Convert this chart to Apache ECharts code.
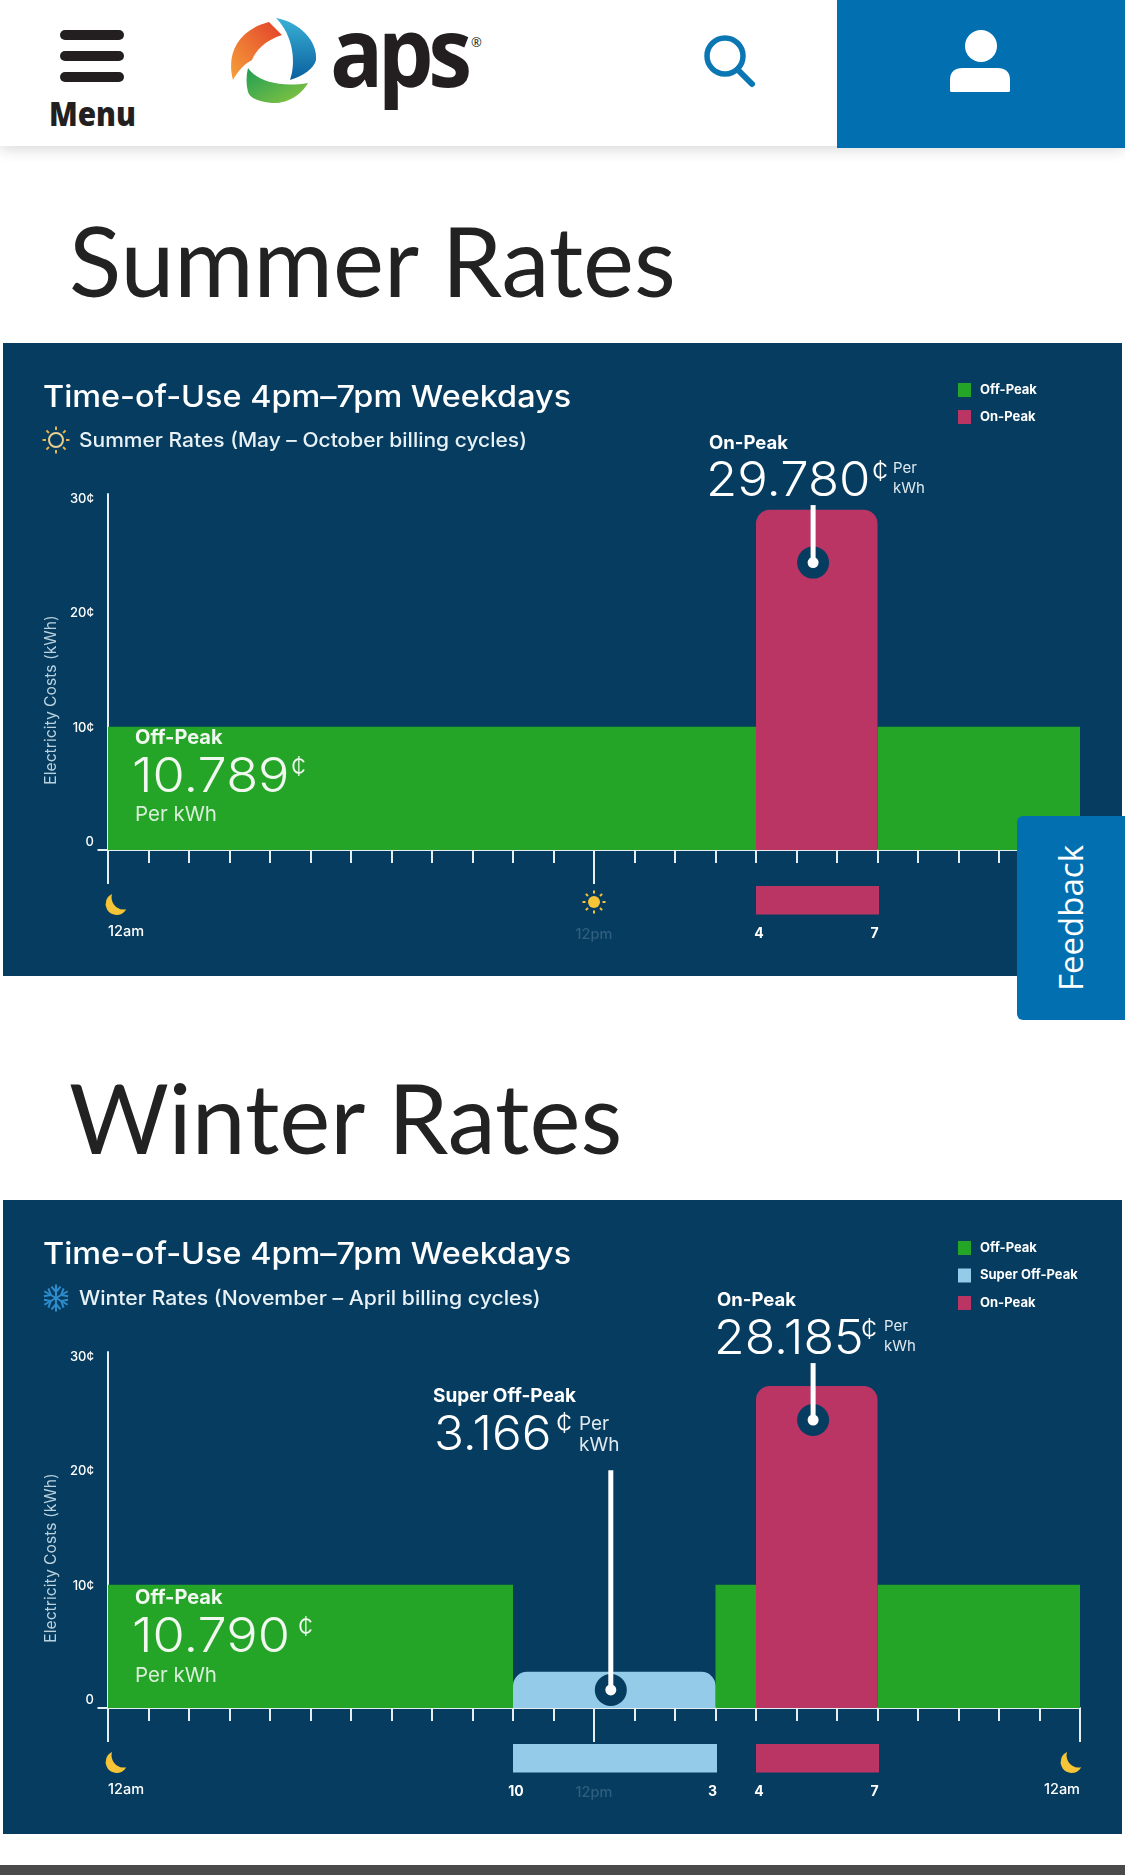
<!DOCTYPE html>
<html>
<head>
<meta charset="utf-8">
<title>APS Time-of-Use Rates</title>
<script src="https://cdn.jsdelivr.net/npm/echarts@6/dist/echarts.min.js"></script>
<style>
  html, body { margin: 0; padding: 0; background: #fff; }
  body { position: relative; width: 1125px; height: 1875px; overflow: hidden; }
  .abs { position: absolute; }
  .header { left: 0; top: 0; width: 1125px; height: 146px; background: #fff; box-shadow: 0 3px 14px rgba(0,0,0,.16); }
  .account { left: 837px; top: 0; width: 288px; height: 148px; background: #0270b0; }
  .bar { left: 60px; width: 64px; height: 10px; border-radius: 5px; background: #231f20; }
  .menu { left: 49px; top: 92px; font: 800 33px/44px "Open Sans", sans-serif; color: #231f20; transform: scaleX(.9); transform-origin: left; }
  .aps { left: 330px; top: -10px; font: 700 96px/120px "Open Sans", sans-serif; letter-spacing: -6px; color: #231f20; transform: scaleX(.92); transform-origin: left; }
  .reg { left: 471px; top: 35px; font: 400 13px/14px "Open Sans", sans-serif; color: #231f20; }
  h1 { position: absolute; margin: 0; left: 69px; font: 400 96.5px/110px Lato, sans-serif; color: #222; }
  .panel { left: 3px; width: 1119px; background: #063c5f; }
  .feedback { left: 1017px; top: 816px; width: 108px; height: 204px; background: #0270b0; border-radius: 6px 0 0 6px; z-index: 5; }
  .feedback span { position: absolute; left: 54px; top: 102px; transform: translate(-50%,-50%) rotate(-90deg); font: 400 33px/40px "Open Sans", sans-serif; color: #fff; white-space: nowrap; }
  .footer { left: 0; top: 1865px; width: 1125px; height: 10px; background: #4a4a4a; }
  #chart { position: absolute; left: 0; top: 0; width: 1125px; height: 1875px; }
</style>
</head>
<body>
<div class="abs panel" style="top:343px;height:633px"></div>
<div class="abs panel" style="top:1200px;height:634px"></div>
<div class="abs header"></div>
<div class="abs account"></div>
<div class="abs bar" style="top:30px"></div>
<div class="abs bar" style="top:51px"></div>
<div class="abs bar" style="top:72px"></div>
<div class="abs menu">Menu</div>
<svg class="abs" style="left:228px;top:14px" width="92" height="92" viewBox="0 0 92 92">
  <defs>
    <linearGradient id="petalA" x1="0" y1="1" x2="1" y2="0"><stop offset="0" stop-color="#f6a13a"/><stop offset="1" stop-color="#e2402b"/></linearGradient>
    <linearGradient id="petalB" x1="0" y1="0" x2="0" y2="1"><stop offset="0" stop-color="#39b1d6"/><stop offset="1" stop-color="#0a5f9e"/></linearGradient>
    <linearGradient id="petalC" x1="0" y1="0" x2="1" y2="1"><stop offset="0" stop-color="#1f9e55"/><stop offset="1" stop-color="#8cc63f"/></linearGradient>
  </defs>
  <path d="M5 66 C-2 40 10 16 41 8 L54 21 C38 26 28 36 24 46 C16 50 10 57 5 66Z" fill="url(#petalA)"/>
  <path d="M48 4 C72 8 90 28 88 46 C86 54 76 62 62 66 C68 50 66 22 48 4Z" fill="url(#petalB)"/>
  <path d="M20 54 C28 66 50 74 80 69 C74 80 60 90 44 89 C30 88 22 84 20 78 C18 70 18 62 20 54Z" fill="url(#petalC)"/>
</svg>
<div class="abs aps">aps</div>
<div class="abs reg">®</div>
<svg class="abs" style="left:700px;top:32px" width="60" height="58" viewBox="0 0 60 58">
  <ellipse cx="25" cy="24" rx="18" ry="18" fill="none" stroke="#0a76b3" stroke-width="5.5"/>
  <line x1="38" y1="38" x2="52" y2="52" stroke="#0a76b3" stroke-width="6" stroke-linecap="round"/>
</svg>
<svg class="abs" style="left:945px;top:28px" width="70" height="68" viewBox="0 0 70 68">
  <ellipse cx="36" cy="18" rx="16" ry="16" fill="#fff"/>
  <path d="M5 63 V52 Q5 40 18 40 H52 Q65 40 65 52 V63 Q65 64 63 64 H7 Q5 64 5 63Z" fill="#fff"/>
</svg>
<h1 style="top:205px">Summer Rates</h1>
<h1 style="top:1062px">Winter Rates</h1>
<div class="abs feedback"><span>Feedback</span></div>
<div class="abs footer"></div>
<div id="chart"></div>

<script>
// Rates in cents per kWh; spans are [startHour, endHour] on a 24-hour day.
const summerOffPeakRate = 10.789;
const summerOnPeakRate = 29.780;
const winterOffPeakRate = 10.790;
const winterSuperOffPeakRate = 3.166;
const winterOnPeakRate = 28.185;

const summerOffPeakSpans = [[0, 16], [19, 24]];
const summerOnPeakSpans = [[16, 19]];
const winterOffPeakSpans = [[0, 10], [15, 16], [19, 24]];
const winterSuperOffPeakSpans = [[10, 15]];
const winterOnPeakSpans = [[16, 19]];

const summerOnPeakHourLabels = ['4', '7'];
const winterSuperOffPeakHourLabels = ['10', '3'];
const winterOnPeakHourLabels = ['4', '7'];

// Callout pins: [hour, pin rate, stem top rate]
const summerOnPeakPin = [17.41, 25.15, 30.18];
const winterOnPeakPin = [17.41, 25.2, 30.18];
const winterSuperOffPeakPin = [12.415, 1.58, 20.8];

const rateTickStep = 10;
const rateAxisTop = 31.15;
const dayClockLabels = ['12am', '12pm', '12am'];
const legendSummer = ['Off-Peak', 'On-Peak'];
const legendWinter = ['Off-Peak', 'Super Off-Peak', 'On-Peak'];

const NAVY = '#063c5f', GREEN = '#25a527', BLUE = '#93cbe9', RED = '#bb3564', AMBER = '#f6c437', LINE = '#e4eef3';
const UI_FONT = 'Inter, sans-serif';

const chart = echarts.init(document.getElementById('chart'), null, { renderer: 'canvas' });

// One block per span, with an optional strip and hour labels under the axis.
function rateSeries(name, gridIndex, spans, rate, color, radius, hourLabels) {
  return {
    type: 'custom', name, xAxisIndex: gridIndex * 2, yAxisIndex: gridIndex,
    itemStyle: { color }, z: name === 'On-Peak' ? 4 : 3,
    encode: { x: [0, 1], y: 2 },
    data: spans.map(s => [s[0], s[1], rate]),
    renderItem(params, api) {
      const a = api.coord([api.value(0), api.value(2)]);
      const b = api.coord([api.value(1), 0]);
      const children = [{
        type: 'rect',
        shape: { x: a[0], y: a[1], width: b[0] - a[0], height: b[1] - a[1], r: [radius, radius, 0, 0] },
        style: { fill: color }
      }];
      if (hourLabels) {
        children.push({
          type: 'rect',
          shape: { x: a[0], y: b[1] + 36, width: b[0] - a[0] + 1.5, height: 28.5 },
          style: { fill: color }
        });
        hourLabels.forEach((text, i) => {
          children.push({
            type: 'text',
            style: {
              text, x: (i === 0 ? a[0] : b[0]) + (i === 0 ? 3 : -3), y: b[1] + 84,
              fill: '#fff', font: '700 14px ' + UI_FONT, align: 'center', verticalAlign: 'middle',
              textAlign: 'center', textVerticalAlign: 'middle'
            }
          });
        });
      }
      return { type: 'group', children };
    }
  };
}

// Stem running into a navy pin with a white centre.
function pinSeries(gridIndex, pins) {
  return {
    type: 'custom', name: 'pin', xAxisIndex: gridIndex * 2, yAxisIndex: gridIndex, z: 6,
    encode: { x: 0, y: [1, 2] },
    data: pins,
    renderItem(params, api) {
      const dot = api.coord([api.value(0), api.value(1)]);
      const top = api.coord([api.value(0), api.value(2)]);
      return {
        type: 'group',
        children: [
          { type: 'circle', shape: { cx: dot[0], cy: dot[1], r: 16 }, style: { fill: NAVY } },
          { type: 'line', shape: { x1: top[0], y1: top[1], x2: dot[0], y2: dot[1] }, style: { stroke: '#fff', lineWidth: 5 } },
          { type: 'circle', shape: { cx: dot[0], cy: dot[1], r: 5.5 }, style: { fill: '#fff' } }
        ]
      };
    }
  };
}

const MOON = 'M9 1 A11.5 11.5 0 1 0 24 17 A13 13 0 0 1 9 1 Z';

// Moon and sun icons that sit under the clock ticks.
function clockIconSeries(gridIndex, icons) {
  return {
    type: 'custom', name: 'clock', xAxisIndex: gridIndex * 2, yAxisIndex: gridIndex, z: 5,
    encode: { x: 0 },
    data: icons.map(i => [i[0], 0, i[1]]),
    renderItem(params, api) {
      const hour = api.value(0);
      const p = api.coord([hour, 0]);
      const kind = icons[params.dataIndex][1];
      if (kind === 'moon') {
        const cx = p[0] + (hour === 0 ? 8 : -9);
        return {
          type: 'path',
          shape: { pathData: MOON, x: cx - 10.5, y: p[1] + 44, width: 21, height: 21 },
          style: { fill: AMBER }
        };
      }
      const cx = p[0], cy = p[1] + 52;
      const children = [{ type: 'circle', shape: { cx, cy, r: 6 }, style: { fill: AMBER } }];
      for (let k = 0; k < 8; k++) {
        const t = k * Math.PI / 4;
        children.push({
          type: 'line',
          shape: { x1: cx + Math.cos(t) * 8.5, y1: cy + Math.sin(t) * 8.5, x2: cx + Math.cos(t) * 11.5, y2: cy + Math.sin(t) * 11.5 },
          style: { stroke: AMBER, lineWidth: 2 }
        });
      }
      return { type: 'group', children };
    }
  };
}

function axesFor(gridIndex) {
  const hourAxis = {
    type: 'value', gridIndex, min: 0, max: 24, interval: 1, position: 'bottom',
    splitLine: { show: false }, axisLabel: { show: false },
    axisLine: { show: true, onZero: false, lineStyle: { color: LINE, width: 2 } },
    axisTick: { show: true, length: 13, lineStyle: { color: LINE, width: 2 } }
  };
  const clockAxis = {
    type: 'value', gridIndex, min: 0, max: 24, interval: 12, position: 'bottom',
    splitLine: { show: false }, axisLine: { show: false },
    axisTick: { show: true, length: 34, lineStyle: { color: LINE, width: 2 } },
    axisLabel: {
      show: true, margin: 74, verticalAlign: 'top',
      alignMinLabel: 'left', alignMaxLabel: 'right', showMinLabel: true, showMaxLabel: true,
      rich: {
        day: { color: '#fff', fontSize: 14.5, fontWeight: 500, fontFamily: UI_FONT },
        noon: { color: '#2f5e7e', fontSize: 14.5, fontWeight: 500, fontFamily: UI_FONT, padding: [3, 0, 0, 0] }
      },
      formatter: v => (v === 12 ? '{noon|' : '{day|') + dayClockLabels[v / 12] + '}'
    }
  };
  return [hourAxis, clockAxis];
}

const yAxisFor = gridIndex => ({
  type: 'value', gridIndex, min: 0, max: rateAxisTop, interval: rateTickStep,
  name: 'Electricity Costs (kWh)', nameLocation: 'middle', nameGap: 49,
  nameTextStyle: { color: '#b9d2df', fontSize: 15.7, fontFamily: UI_FONT, padding: [0, 56, 0, 0] },
  splitLine: { show: false },
  axisLine: { show: true, lineStyle: { color: LINE, width: 2 } },
  axisTick: { show: true, customValues: [0], length: 10.5, lineStyle: { color: LINE, width: 2 } },
  axisLabel: {
    color: '#fff', fontSize: 13, fontWeight: 500, fontFamily: UI_FONT, margin: 14, showMaxLabel: false,
    verticalAlign: 'bottom', lineHeight: 16,
    formatter: v => (v === 0 ? '0' : v + '¢')
  }
});

// Plain text placed on the panels.
function label(text, x, y, size, weight, fill, sx) {
  return {
    type: 'text', z: 50, x, y, scaleX: sx || 1,
    style: {
      text, x: 0, y: 0, fill, font: weight + ' ' + size + 'px ' + UI_FONT,
      align: 'left', verticalAlign: 'middle', textAlign: 'left', textVerticalAlign: 'middle'
    }
  };
}

// Headline figure with its cent sign and stacked "Per kWh" note.
function callout(title, titleSize, rate, numSx, x, titleY, numX, numY, centX, centY, perX, perY, kwhY, perSize) {
  return [
    label(title, x, titleY, titleSize, 700, '#fff'),
    label(rate.toFixed(3), numX, numY, 48, 300, '#fff', numSx),
    label('¢', centX, centY, 29, 300, '#fff'),
    label('Per', perX, perY, perSize, 400, '#dfeaf0'),
    label('kWh', perX, kwhY, perSize, 400, '#dfeaf0')
  ];
}

function offPeakBlock(rate, x, titleY, numY, centX, centY, perY) {
  return [
    label('Off-Peak', x, titleY, 20, 700, '#f0f8f0'),
    label(rate.toFixed(3), x - 3, numY, 48, 300, '#f0f8f0', 1.09),
    label('¢', centX, centY, 27, 300, '#f0f8f0'),
    label('Per kWh', x, perY, 20.5, 400, '#d9efd9')
  ];
}

function sunOutline(cx, cy) {
  const parts = [{ type: 'circle', z: 50, shape: { cx, cy, r: 7 }, style: { fill: 'none', stroke: '#e9cf8f', lineWidth: 2 } }];
  for (let k = 0; k < 8; k++) {
    const t = k * Math.PI / 4;
    parts.push({
      type: 'line', z: 50,
      shape: { x1: cx + Math.cos(t) * 10, y1: cy + Math.sin(t) * 10, x2: cx + Math.cos(t) * 13.5, y2: cy + Math.sin(t) * 13.5 },
      style: { stroke: '#eab04a', lineWidth: 2 }
    });
  }
  return parts;
}

function snowflake(cx, cy) {
  const parts = [];
  for (let k = 0; k < 6; k++) {
    const t = k * Math.PI / 3 + Math.PI / 2;
    const ux = Math.cos(t), uy = Math.sin(t);
    parts.push({ type: 'line', z: 50, shape: { x1: cx, y1: cy, x2: cx + ux * 13.5, y2: cy + uy * 13.5 }, style: { stroke: '#2e8ccd', lineWidth: 2 } });
    [-0.7, 0.7].forEach(d => {
      const vx = Math.cos(t + d), vy = Math.sin(t + d);
      parts.push({
        type: 'line', z: 50,
        shape: { x1: cx + ux * 6, y1: cy + uy * 6, x2: cx + ux * 6 + vx * 7, y2: cy + uy * 6 + vy * 7 },
        style: { stroke: '#2e8ccd', lineWidth: 2 }
      });
    });
  }
  return parts;
}

const legendText = { color: '#fff', fontSize: 13, fontWeight: 700, fontFamily: UI_FONT, padding: [0, 0, 0, 4] };

chart.setOption({
  animation: false,
  tooltip: { show: false },
  grid: [
    { left: 108, top: 494, width: 972, height: 356 },
    { left: 108, top: 1352, width: 972, height: 356 }
  ],
  xAxis: [...axesFor(0), ...axesFor(1)],
  yAxis: [yAxisFor(0), yAxisFor(1)],
  legend: [
    { data: legendSummer, orient: 'vertical', left: 953, top: 378, icon: 'rect', itemWidth: 13, itemHeight: 14, itemGap: 13, selectedMode: false, textStyle: legendText },
    { data: legendWinter, orient: 'vertical', left: 953, top: 1236, icon: 'rect', itemWidth: 13, itemHeight: 14, itemGap: 13.5, selectedMode: false, textStyle: legendText }
  ],
  series: [
    rateSeries('Off-Peak', 0, summerOffPeakSpans, summerOffPeakRate, GREEN, 0),
    rateSeries('On-Peak', 0, summerOnPeakSpans, summerOnPeakRate, RED, 14, summerOnPeakHourLabels),
    pinSeries(0, [summerOnPeakPin]),
    clockIconSeries(0, [[0, 'moon'], [12, 'sun'], [24, 'moon']]),
    rateSeries('Off-Peak', 1, winterOffPeakSpans, winterOffPeakRate, GREEN, 0),
    rateSeries('Super Off-Peak', 1, winterSuperOffPeakSpans, winterSuperOffPeakRate, BLUE, 14, winterSuperOffPeakHourLabels),
    rateSeries('On-Peak', 1, winterOnPeakSpans, winterOnPeakRate, RED, 14, winterOnPeakHourLabels),
    pinSeries(1, [winterOnPeakPin, winterSuperOffPeakPin]),
    clockIconSeries(1, [[0, 'moon'], [24, 'moon']])
  ],
  graphic: { elements: [
    label('Time-of-Use 4pm–7pm Weekdays', 43, 398, 30, 500, '#fff', 1.08),
    label('Summer Rates (May – October billing cycles)', 79, 441, 20, 500, '#e8f1f5', 1.05),
    label('Time-of-Use 4pm–7pm Weekdays', 43, 1255, 30, 500, '#fff', 1.08),
    label('Winter Rates (November – April billing cycles)', 79, 1299, 20, 500, '#e8f1f5', 1.06),
    ...sunOutline(56, 440),
    ...snowflake(56, 1298),
    ...callout('On-Peak', 18.5, summerOnPeakRate, 1.06, 709, 443, 706, 482, 872, 472, 893, 468, 488, 15),
    ...callout('On-Peak', 18.5, winterOnPeakRate, 1.04, 717, 1300, 714, 1340, 861, 1330, 884, 1326, 1346, 15),
    ...callout('Super Off-Peak', 19, winterSuperOffPeakRate, 1.03, 433, 1396, 434, 1436, 556, 1424, 579, 1424, 1445, 19),
    ...offPeakBlock(summerOffPeakRate, 135, 738, 778, 291, 768, 815),
    ...offPeakBlock(winterOffPeakRate, 135, 1598, 1638, 298, 1628, 1676)
  ] }
});
</script>
</body>
</html>
